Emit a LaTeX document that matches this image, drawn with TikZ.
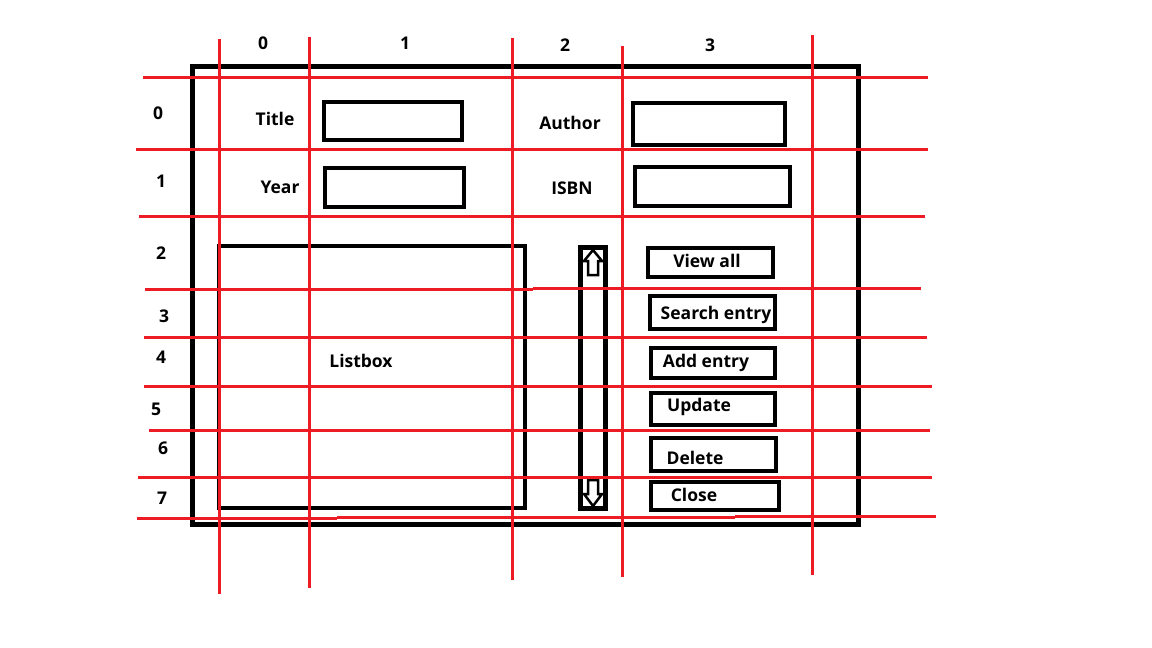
\documentclass[tikz,border=0pt]{standalone}
\usepackage{fontspec}
\setmainfont{Open Sans}
\definecolor{gridred}{HTML}{ED1C24}
\tikzset{
  gridline/.style={draw=gridred, line width=3pt},
  frameline/.style={draw=black, line width=5pt},
  boxline/.style={draw=black, line width=4.5pt},
  lbl/.style={font=\fontsize{17.5}{20}\selectfont\bfseries, inner sep=0pt},
  num/.style={font=\fontsize{17.5}{20}\selectfont\bfseries, inner sep=0pt},
  arrowshape/.style={draw=black, fill=white, line width=2.5pt, line join=miter}
}
\begin{document}
\begin{tikzpicture}[x=1pt,y=-1pt]
\useasboundingbox (0,0) rectangle (1152,648);
\fill[white] (0,0) rectangle (1152,648);
% outer frame
\draw[frameline] (192,66) rectangle (858,524);
% entries
\draw[boxline] (324,102) rectangle (462,140);
\draw[boxline] (325,168) rectangle (464,207);
\draw[boxline] (633,103) rectangle (785,145);
\draw[boxline] (635,167) rectangle (790,206);
% listbox
\draw[boxline] (219,246) rectangle (525,508);
% scrollbar
\draw[frameline] (580,247) rectangle (605,508);
\draw[arrowshape] (593,250) -- (602,261) -- (598,261) -- (598,275) -- (588,275) -- (588,261) -- (584,261) -- cycle;
\draw[arrowshape] (593,506) -- (602,494) -- (598,494) -- (598,480) -- (588,480) -- (588,494) -- (584,494) -- cycle;
% buttons
\draw[boxline] (648,248) rectangle (773,277);
\draw[boxline] (650,296) rectangle (775,329);
\draw[boxline] (651,348) rectangle (775,378);
\draw[boxline] (651,393) rectangle (775,425);
\draw[boxline] (651,438) rectangle (776,471);
\draw[boxline] (651,482) rectangle (779,510);
% labels
\node[lbl] (ltitle) at (275,119) {Title};
\node[lbl] (lyear) at (280,187) {Year};
\node[lbl] (lauthor) at (570,123) {Author};
\node[lbl] (lisbn) at (572,188) {ISBN};
\node[lbl] (llist) at (361,361) {Listbox};
\node[lbl] (bview) at (707,261) {View all};
\node[lbl] (bsearch) at (716,315) {Search entry};
\node[lbl] (badd) at (706,363) {Add entry};
\node[lbl] (bupdate) at (699,407) {Update};
\node[lbl] (bdelete) at (695,458) {Delete};
\node[lbl] (bclose) at (694,495) {Close};
% column numbers
\node[num] (c0) at (263,43) {0};
\node[num] (c1) at (405,43) {1};
\node[num] (c2) at (565,45) {2};
\node[num] (c3) at (710,45) {3};
% row numbers
\node[num] (r0) at (158,113) {0};
\node[num] (r1) at (161,181) {1};
\node[num] (r2) at (161,253) {2};
\node[num] (r3) at (164,316) {3};
\node[num] (r4) at (161,357) {4};
\node[num] (r5) at (156,409) {5};
\node[num] (r6) at (163,448) {6};
\node[num] (r7) at (162,498) {7};
% red grid: verticals
\draw[gridline] (219,39) -- (219,594);
\draw[gridline] (309,37) -- (309,588);
\draw[gridline] (512,38) -- (512,580);
\draw[gridline] (622,46) -- (622,577);
\draw[gridline] (812,35) -- (812,575);
% red grid: horizontals
\draw[gridline] (143,77) -- (928,77);
\draw[gridline] (136,149) -- (928,149);
\draw[gridline] (139,216) -- (925,216);
\draw[gridline] (145,289) -- (533,289);
\draw[gridline] (533,288) -- (921,288);
\draw[gridline] (144,337) -- (927,337);
\draw[gridline] (144,386) -- (932,386);
\draw[gridline] (149,430) -- (930,430);
\draw[gridline] (138,477) -- (932,477);
\draw[gridline] (137,518) -- (337,518);
\draw[gridline] (337,517) -- (735,517);
\draw[gridline] (735,516) -- (936,516);
\end{tikzpicture}
\end{document}
